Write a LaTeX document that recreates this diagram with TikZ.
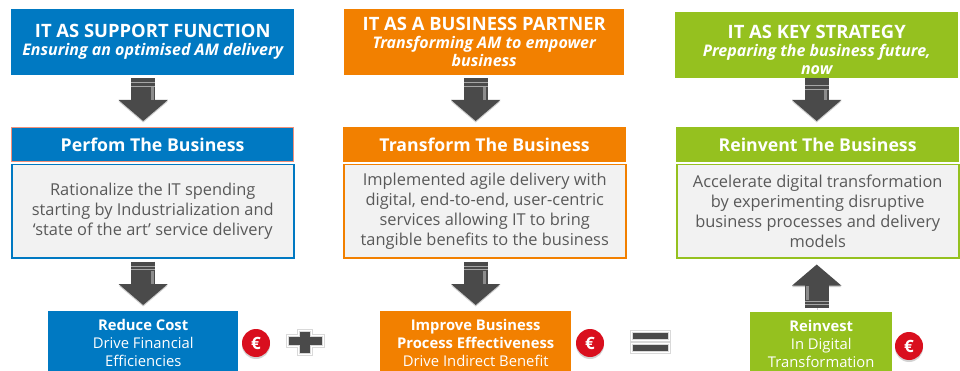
\documentclass[tikz,border=0pt]{standalone}
\usepackage{fontspec}
\setmainfont{Open Sans}
\usetikzlibrary{arrows.meta,shadows}
\definecolor{itblue}{HTML}{0079C2}
\definecolor{itorange}{HTML}{F28000}
\definecolor{itgreen}{HTML}{95C11F}
\definecolor{itred}{HTML}{D90F1E}
\definecolor{itbody}{HTML}{F2F2F2}
\definecolor{ittext}{HTML}{595959}
\definecolor{itarrow}{HTML}{4A4A4A}
\definecolor{itsalmon}{HTML}{F0907A}
\newcommand{\subline}{\fontsize{16}{18}\selectfont\itshape}
\newcommand{\lowstrut}{\rule{0pt}{15pt}}
\tikzset{
  x=1pt,y=1pt,
  box/.style={anchor=north west,inner sep=0pt,align=center,text=white},
  topbox/.style={box,minimum height=66pt,font=\fontsize{18.4}{18}\selectfont\bfseries},
  headbox/.style={box,minimum height=34pt,minimum width=282pt,line width=1.2pt,font=\fontsize{17.7}{18}\selectfont\bfseries},
  bodybox/.style={box,minimum height=93pt,minimum width=282pt,fill=itbody,text=ittext,line width=1.5pt,font=\fontsize{16.4}{20}\selectfont},
  lowbox/.style={box,minimum height=60pt,font=\fontsize{14.8}{18}\selectfont},
  euro/.style={circle,fill=itred,text=white,minimum size=28pt,inner sep=0pt,font=\fontsize{17}{17}\selectfont\bfseries,drop shadow={shadow xshift=0pt,shadow yshift=-2pt,opacity=.35}},
  bar/.style={fill=itarrow,draw=black!15,double=white,double distance=1.5pt,line width=.6pt,inner sep=0pt},
  bigarrow/.style={draw=itarrow,line width=24pt,-{Triangle[width=48pt,length=21pt]},shorten <=3pt,shorten >=6pt,
    preaction={draw=black,opacity=.2,transform canvas={yshift=-1.5pt}},
    postaction={draw=black!35,line width=24pt,dash pattern=on 0pt off 4pt on 1pt off 2.5pt on 1pt off 90pt,-,shorten <=3pt,shorten >=30pt},
    postaction={draw=black!45,line width=3pt,-,transform canvas={xshift=#1},shorten <=12pt,shorten >=27pt}},
  bigarrow/.default=9pt,
}
\begin{document}
\begin{tikzpicture}
  \useasboundingbox (0,0) rectangle (960,-371);
  % first column
  \node[topbox,fill=itblue,minimum width=283pt] (topa) at (11,-9) {IT AS SUPPORT FUNCTION\\\subline Ensuring an optimised AM delivery};
  \node[headbox,fill=itblue,draw=itsalmon] (heada) at (11,-127) {Perfom The Business};
  \node[bodybox,draw=itblue] (bodya) at (11,-164) {Rationalize the IT spending\\starting by Industrialization and\\‘state of the art’ service delivery};
  \node[lowbox,fill=itblue,minimum width=190pt] (lowa) at (48,-311) {\lowstrut\textbf{Reduce Cost}\\Drive Financial\\Efficiencies};
  \node[euro] (euroa) at (256,-343) {€};
  % second column
  \node[topbox,fill=itorange,minimum width=280pt] (topb) at (344,-9) {IT AS A BUSINESS PARTNER\\\subline Transforming AM to empower\\\subline business};
  \node[headbox,fill=itorange,draw=itorange] (headb) at (343,-127) {Transform The Business};
  \node[bodybox,draw=itorange] (bodyb) at (343,-164) {Implemented agile delivery with\\digital, end-to-end, user-centric\\services allowing IT to bring\\tangible benefits to the business};
  \node[lowbox,fill=itorange,minimum width=191pt] (lowb) at (380,-311) {\lowstrut\textbf{Improve Business}\\\textbf{Process Effectiveness}\\Drive Indirect Benefit};
  \node[euro] (eurob) at (590,-343) {€};
  % third column
  \node[topbox,fill=itgreen,minimum width=283pt] (topc) at (675,-12) {\rule{0pt}{22pt}IT AS KEY STRATEGY\\\subline Preparing the business future,\\\subline now};
  \node[headbox,fill=itgreen,draw=itgreen] (headc) at (676,-127) {Reinvent The Business};
  \node[bodybox,draw=itgreen] (bodyc) at (676,-164) {Accelerate digital transformation\\by experimenting disruptive\\business processes and delivery\\models};
  \node[lowbox,fill=itgreen,minimum width=142pt] (lowc) at (750,-312) {\lowstrut\textbf{Reinvest}\\In Digital\\Transformation};
  \node[euro] (euroc) at (909,-346) {€};
  % plus and equals
  \draw[bar] (287.5,-335.5) -| (298.5,-330.5) -| (311.5,-335.5) -| (323.5,-346.5) -| (311.5,-354.5) -| (298.5,-346.5) -| (287.5,-335.5) -- cycle;
  \node[bar,minimum width=38pt,minimum height=9pt] (equala) at (650.5,-336) {};
  \node[bar,minimum width=38pt,minimum height=9pt] (equalb) at (650.5,-348) {};
  % arrows
  \draw[bigarrow] (topa.south -| lowa.north) -- (heada.north -| lowa.north);
  \draw[bigarrow] (topb.south -| lowb.north) -- (headb.north -| lowb.north);
  \draw[bigarrow,shorten <=0pt] (topc.south) -- (headc.north -| topc.south);
  \draw[bigarrow] (bodya.south -| lowa.north) -- (lowa.north);
  \draw[bigarrow] (bodyb.south -| lowb.north) -- (lowb.north);
  \draw[bigarrow=-9pt,shorten <=4pt] (lowc.north -| topc.south) -- (bodyc.south -| topc.south);
\end{tikzpicture}
\end{document}
